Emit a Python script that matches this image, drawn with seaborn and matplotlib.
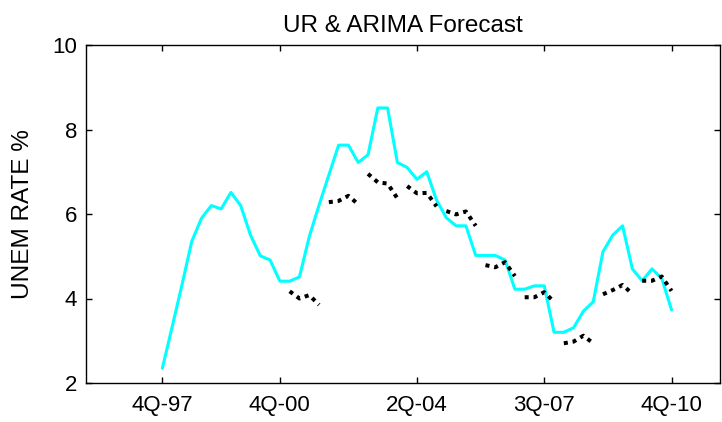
import numpy as np
import pandas as pd
import matplotlib
matplotlib.use("Agg")
import matplotlib.pyplot as plt
import seaborn as sns

# Quarterly unemployment rate, 1997Q4 .. 2010Q4
first_quarter = "1997Q4"
last_quarter = "2010Q4"
unem_rate = [
    2.35, 3.33, 4.32, 5.35, 5.90, 6.20, 6.12, 6.51, 6.20, 5.50, 5.01, 4.91, 4.41,
    4.41, 4.51, 5.46, 6.21, 6.92, 7.63, 7.63, 7.22, 7.40, 8.51, 8.51, 7.22, 7.10,
    6.82, 7.00, 6.33, 5.91, 5.72, 5.72, 5.02, 5.02, 5.02, 4.91, 4.22, 4.22, 4.30, 4.30,
    3.20, 3.20, 3.31, 3.70, 3.92, 5.11, 5.50, 5.72, 4.70, 4.42, 4.70, 4.48, 3.73,
]

# Four-quarter ARIMA forecasts, one block per calendar year
forecast_years = [2001, 2002, 2003, 2004, 2005, 2006, 2007, 2008, 2009, 2010]
fc_2001 = [4.17, 4.00, 4.08, 3.85]
fc_2002 = [6.28, 6.31, 6.43, 6.23]
fc_2003 = [6.95, 6.75, 6.72, 6.37]
fc_2004 = [6.66, 6.49, 6.50, 6.18]
fc_2005 = [6.07, 5.99, 6.06, 5.72]
fc_2006 = [4.79, 4.74, 4.86, 4.53]
fc_2007 = [4.03, 4.03, 4.15, 3.92]
fc_2008 = [2.94, 2.98, 3.12, 2.94]
fc_2009 = [4.10, 4.20, 4.32, 4.11]
fc_2010 = [4.42, 4.42, 4.52, 4.18]
forecasts = [fc_2001, fc_2002, fc_2003, fc_2004, fc_2005,
             fc_2006, fc_2007, fc_2008, fc_2009, fc_2010]

tick_periods = ["1997Q4", "2000Q4", "2004Q2", "2007Q3", "2010Q4"]
tick_labels = ["4Q-97", "4Q-00", "2Q-04", "3Q-07", "4Q-10"]
y_ticks = [2, 4, 6, 8, 10]

title_text = "UR & ARIMA Forecast"
y_label = "UNEM RATE %"

# ---- tables -------------------------------------------------------------
periods = pd.period_range(first_quarter, last_quarter, freq="Q")
origin = periods[0]


def q_index(p):
    return (pd.Period(p, freq="Q") - origin).n


actual = pd.DataFrame({"q": [(p - origin).n for p in periods], "rate": unem_rate})

rows = []
for year, vals in zip(forecast_years, forecasts):
    start = q_index(f"{year}Q1")
    for k, v in enumerate(vals):
        rows.append({"seg": year, "q": start + k, "rate": v})
fc = pd.DataFrame(rows)

# ---- figure -------------------------------------------------------------
sns.set_theme(style="ticks")
plt.rcParams["font.family"] = ["Liberation Sans", "DejaVu Sans"]
plt.rcParams["axes.edgecolor"] = "black"
plt.rcParams["axes.linewidth"] = 1.0
plt.rcParams["text.color"] = "black"
plt.rcParams["axes.labelcolor"] = "black"
plt.rcParams["xtick.color"] = "black"
plt.rcParams["ytick.color"] = "black"

fig = plt.figure(figsize=(7.22, 4.22), dpi=100)
ax = fig.add_axes([85.7 / 722, 1 - 383 / 422, (720.5 - 85.7) / 722, (383 - 45) / 422])

sns.lineplot(data=actual, x="q", y="rate", ax=ax, color="#00FFFF",
             linewidth=2.2, estimator=None, sort=False)
sns.lineplot(data=fc, x="q", y="rate", units="seg", estimator=None, ax=ax,
             color="black", linewidth=2.9, linestyle=(0, (1, 1.2)),
             dash_capstyle="butt", sort=False)

ax.set_xlim(-7.83, 57.0)
ax.set_ylim(2, 10)
ax.set_xticks([q_index(p) for p in tick_periods])
ax.set_xticklabels(tick_labels)
ax.set_yticks(y_ticks)
ax.set_yticklabels([str(t) for t in y_ticks])

ax.tick_params(axis="both", direction="in", length=4.5, width=1.0,
               top=True, right=True, labelsize=16, colors="black")
ax.tick_params(axis="x", pad=9)
ax.tick_params(axis="y", pad=6)

ax.set_xlabel("")
ax.set_ylabel(y_label, fontsize=17.6, labelpad=13, color="black")
ax.set_title(title_text, fontsize=17.5, pad=9, color="black")

for s in ax.spines.values():
    s.set_visible(True)
    s.set_color("black")

fig.savefig("out.png", dpi=100, facecolor="white")
